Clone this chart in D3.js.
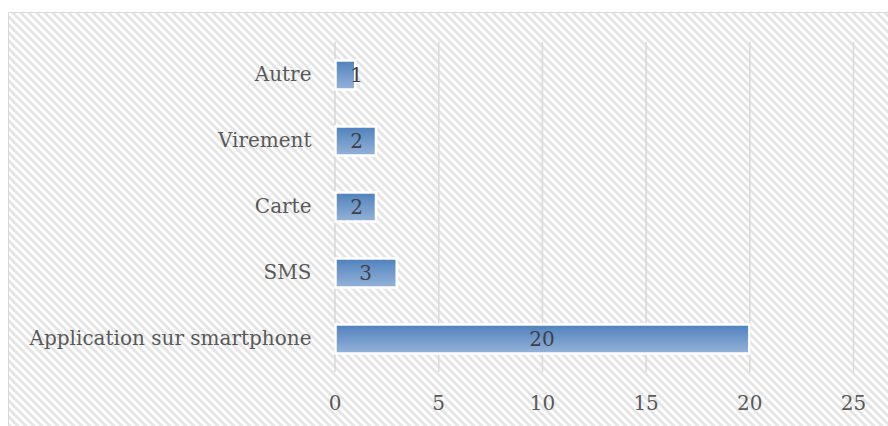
<!DOCTYPE html>
<html><head><meta charset="utf-8">
<script src="https://cdn.jsdelivr.net/npm/d3@7/dist/d3.min.js"></script>
<style>html,body{margin:0;padding:0;background:#fff;}svg{display:block;}</style>
</head><body>
<script>
const categories = ["Autre", "Virement", "Carte", "SMS", "Application sur smartphone"];
const values = [1, 2, 2, 3, 20];
const tickValues = [0, 5, 10, 15, 20, 25];

const W = 888, H = 426;
const svg = d3.select("body").append("svg").attr("width", W).attr("height", H);
const defs = svg.append("defs");
const pat = defs.append("pattern").attr("id", "stripes").attr("patternUnits", "userSpaceOnUse")
  .attr("width", 8).attr("height", 8);
pat.append("rect").attr("width", 8).attr("height", 8).attr("fill", "#ffffff");
pat.append("path").attr("d", "M-2,-2L10,10M-2,6L2,10M6,-2L10,2")
  .attr("stroke", "#e4e4e4").attr("stroke-width", 2.8).attr("fill", "none");
const grad = defs.append("linearGradient").attr("id", "barg").attr("x1", 0).attr("y1", 0).attr("x2", 0).attr("y2", 1);
grad.append("stop").attr("offset", "0%").attr("stop-color", "#4f81bd");
grad.append("stop").attr("offset", "100%").attr("stop-color", "#95b3d9");

svg.append("rect").attr("x", 8.5).attr("y", 12.5).attr("width", W).attr("height", H)
  .attr("fill", "url(#stripes)").attr("stroke", "#d9d9d9").attr("stroke-width", 1);

const x = d3.scaleLinear().domain([0, 25]).range([334.5, 853]);
const y = d3.scaleBand().domain(categories).range([42, 372]).paddingInner(0.56).paddingOuter(0.28);

const font = "'DejaVu Serif', 'Liberation Serif', serif";
const fs = 20;

// gridlines
const xAxis = d3.axisBottom(x).tickValues(tickValues).tickSize(-(372 - 42)).tickPadding(24);
const gx = svg.append("g").attr("transform", "translate(0,372)").call(xAxis);
gx.select(".domain").remove();
gx.selectAll(".tick line").attr("stroke", "#d9d9d9").attr("stroke-width", 1.5);
gx.selectAll(".tick text").attr("fill", "#595959").attr("font-family", font).attr("font-size", fs);

// category axis
const yAxis = d3.axisLeft(y).tickSize(0).tickPadding(23);
const gy = svg.append("g").attr("transform", `translate(${x(0)},0)`).call(yAxis);
gy.select(".domain").remove();
gy.selectAll(".tick text").attr("fill", "#595959").attr("font-family", font).attr("font-size", fs);

const data = categories.map((c, i) => ({c, v: values[i]}));
svg.append("g").selectAll("rect").data(data).join("rect")
  .attr("x", x(0) + 1).attr("y", d => y(d.c))
  .attr("width", d => x(d.v) - x(0) - 1).attr("height", y.bandwidth())
  .attr("fill", "url(#barg)").attr("stroke", "#ffffff").attr("stroke-width", 2.5);

svg.append("g").selectAll("text").data(data).join("text")
  .attr("x", d => Math.max((x(d.v) + x(0)) / 2, x(0) + 22))
  .attr("y", d => y(d.c) + y.bandwidth() / 2)
  .attr("dy", "0.36em").attr("text-anchor", "middle")
  .attr("fill", "#404040").attr("font-family", font).attr("font-size", fs)
  .text(d => d.v);
</script>
</body></html>
